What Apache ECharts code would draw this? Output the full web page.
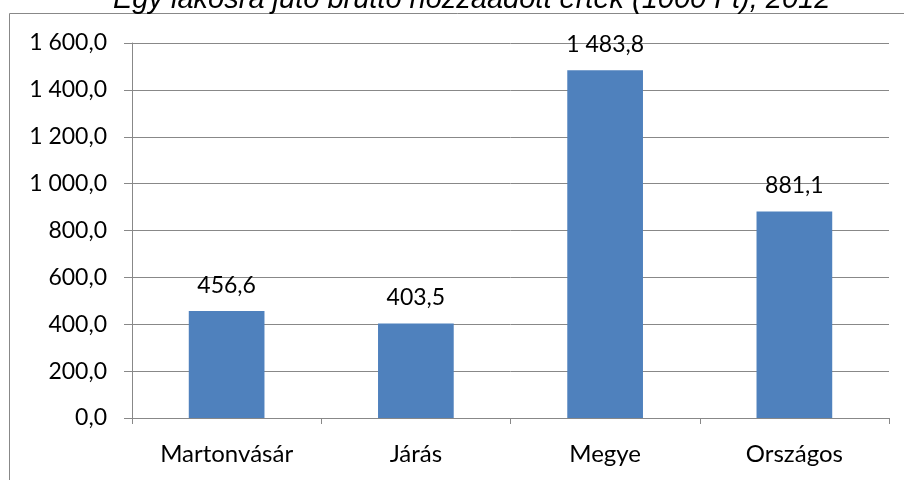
<!DOCTYPE html>
<html>
<head>
<meta charset="utf-8">
<script src="https://cdn.jsdelivr.net/npm/echarts@6/dist/echarts.min.js"></script>
<style>
html, body { margin: 0; padding: 0; background: #fff; }
#chart { width: 904px; height: 480px; }
</style>
</head>
<body>
<div id="chart"></div>
<script>
const categories = ['Martonvásár', 'Járás', 'Megye', 'Országos'];
const values = [456.6, 403.5, 1483.8, 881.1];
const titleText = 'Egy lakosra jutó bruttó hozzáadott érték (1000 Ft), 2012';

// magyar számformátum: 1 600,0
function fmt(v) {
    const s = Number(v).toFixed(1).split('.');
    const whole = s[0].replace(/\B(?=(\d{3})+(?!\d))/g, ' ');
    return whole + ',' + s[1];
}

const font = 'Lato';
const chart = echarts.init(document.getElementById('chart'));
chart.setOption({
    animation: false,
    title: {
        text: titleText,
        left: 108,
        top: -20,
        textStyle: {
            fontFamily: 'Liberation Sans',
            fontStyle: 'italic',
            fontWeight: 'normal',
            fontSize: 29,
            color: '#000'
        }
    },
    graphic: [{
        type: 'rect',
        shape: { x: 9.5, y: 13.5, width: 920, height: 500 },
        style: { fill: 'none', stroke: '#888', lineWidth: 1 },
        z: -1
    }],
    grid: { left: 132, right: 15, top: 43, bottom: 62 },
    xAxis: {
        type: 'category',
        data: categories,
        axisLine: { lineStyle: { color: '#888' } },
        axisTick: { show: true, length: 6, lineStyle: { color: '#888' } },
        axisLabel: { color: '#000', fontFamily: font, fontSize: 24, margin: 24 }
    },
    yAxis: {
        type: 'value',
        min: 0,
        max: 1600,
        interval: 200,
        axisLine: { show: true, lineStyle: { color: '#888' } },
        axisTick: { show: true, length: 8, lineStyle: { color: '#888' } },
        splitLine: { lineStyle: { color: '#888' } },
        axisLabel: { color: '#000', fontFamily: font, fontSize: 23, margin: 25, formatter: fmt }
    },
    series: [{
        type: 'bar',
        data: values,
        barWidth: '40%',
        itemStyle: { color: '#4F81BD' },
        label: {
            show: true,
            position: 'top',
            distance: 14,
            color: '#000',
            fontFamily: font,
            fontSize: 23,
            formatter: p => fmt(p.value)
        }
    }]
});
</script>
</body>
</html>
